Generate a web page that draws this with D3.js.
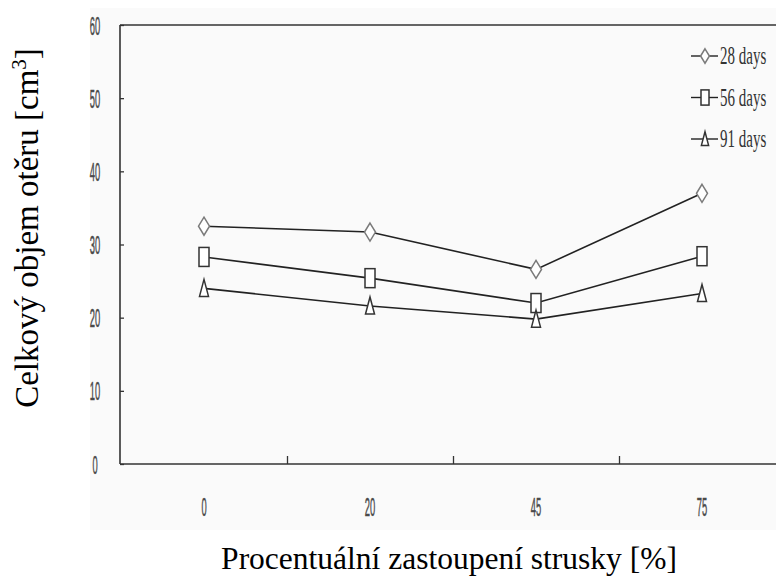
<!DOCTYPE html>
<html>
<head>
<meta charset="utf-8">
<script src="https://cdn.jsdelivr.net/npm/d3@7"></script>
<style>
  html, body { margin: 0; padding: 0; background: #ffffff; }
  svg { display: block; }
</style>
</head>
<body>
<script>
// Slag content categories (%) and abrasion volume per curing age (cm³)
const categories = ["0", "20", "45", "75"];
const seriesNames = ["28 days", "56 days", "91 days"];
const days28 = [32.5, 31.7, 26.6, 37.0];
const days56 = [28.3, 25.4, 22.0, 28.4];
const days91 = [24.0, 21.6, 19.8, 23.3];
const yTicks = [0, 10, 20, 30, 40, 50, 60];

const W = 776, H = 578;
const plotLeft = 120, plotTop = 25, plotBottom = 464, plotRight = 776;

const svg = d3.select("body").append("svg")
  .attr("width", W).attr("height", H);

// faint panel behind the plot
svg.append("rect")
  .attr("x", 90).attr("y", 8).attr("width", W - 90).attr("height", 522)
  .attr("fill", "#fafafa");

const x = d3.scaleBand().domain(categories).range([121, 785]).padding(0);
const y = d3.scaleLinear().domain([0, 60]).range([plotBottom, plotTop]);
const cx = c => x(c) + x.bandwidth() / 2;

const frame = "#333";

// y axis: ticks pointing inward, labels drawn separately
const gy = svg.append("g").attr("transform", `translate(${plotLeft},0)`)
  .call(d3.axisRight(y).tickValues(yTicks).tickSize(4).tickFormat(""));
gy.select(".domain").remove();
gy.selectAll(".tick line").attr("stroke", frame).attr("stroke-width", 1.3);

// x axis ticks sit on the band boundaries, pointing up into the plot
const bounds = categories.slice(1).map(c => x(c));
const gx = svg.append("g").attr("transform", `translate(0,${plotBottom})`)
  .call(d3.axisTop(d3.scaleIdentity()).tickValues(bounds).tickSize(8).tickFormat(""));
gx.select(".domain").remove();
gx.selectAll(".tick line").attr("stroke", frame).attr("stroke-width", 1.3);

// frame: left, top and bottom lines
svg.append("line").attr("x1", plotLeft).attr("x2", plotLeft).attr("y1", plotTop).attr("y2", plotBottom)
  .attr("stroke", frame).attr("stroke-width", 1.6);
svg.append("line").attr("x1", plotLeft).attr("x2", plotRight).attr("y1", plotTop).attr("y2", plotTop)
  .attr("stroke", frame).attr("stroke-width", 1.6);
svg.append("line").attr("x1", plotLeft).attr("x2", plotRight).attr("y1", plotBottom).attr("y2", plotBottom)
  .attr("stroke", frame).attr("stroke-width", 1.6);

// condensed tick labels
function narrowText(g, tx, ty, txt, size, sx, family, fill) {
  g.append("text")
    .attr("transform", `translate(${tx},${ty}) scale(${sx},1)`)
    .attr("text-anchor", "middle")
    .attr("font-family", family)
    .attr("font-size", size)
    .attr("fill", fill)
    .attr("stroke", fill)
    .attr("stroke-width", 0.5)
    .text(txt);
}
const labels = svg.append("g");
yTicks.forEach(v => narrowText(labels, 95, y(v) + 9.5, String(v), 26, 0.36, "Liberation Sans", "#4a4a4a"));
categories.forEach(c => narrowText(labels, cx(c), 516, c, 26, 0.36, "Liberation Sans", "#4a4a4a"));

// series
const data = [days28, days56, days91];
const line = d3.line().x((d, i) => cx(categories[i])).y(d => y(d));

function marker(g, kind, px, py, s) {
  const k = s || 1;
  if (kind === 0) {
    g.append("path")
      .attr("d", `M${px},${py - 9 * k}L${px + 5.5 * k},${py}L${px},${py + 9 * k}L${px - 5.5 * k},${py}Z`)
      .attr("fill", "#fff").attr("stroke", "#7a7a7a").attr("stroke-width", 1.5);
  } else if (kind === 1) {
    g.append("rect")
      .attr("x", px - 5 * k).attr("y", py - 9.5 * k).attr("width", 10 * k).attr("height", 19 * k)
      .attr("fill", "#fff").attr("stroke", "#333").attr("stroke-width", 1.5);
  } else {
    g.append("path")
      .attr("d", `M${px},${py - 9 * k}L${px + 4.5 * k},${py + 8 * k}L${px - 4.5 * k},${py + 8 * k}Z`)
      .attr("fill", "#fff").attr("stroke", "#333").attr("stroke-width", 1.5);
  }
}

const plot = svg.append("g");
data.forEach(vals => {
  plot.append("path").datum(vals).attr("d", line)
    .attr("fill", "none").attr("stroke", "#222").attr("stroke-width", 1.6);
});
data.forEach((vals, k) => {
  vals.forEach((v, i) => marker(plot, k, cx(categories[i]), y(v)));
});

// legend
const leg = svg.append("g");
const legY = [56, 97.5, 139];
seriesNames.forEach((name, k) => {
  const ly = legY[k];
  leg.append("line").attr("x1", 691).attr("x2", 718).attr("y1", ly).attr("y2", ly)
    .attr("stroke", "#222").attr("stroke-width", 1.4);
  marker(leg, k, 705, ly, 0.8);
  leg.append("text")
    .attr("transform", `translate(720,${ly + 8}) scale(0.6,1)`)
    .attr("font-family", "Liberation Serif")
    .attr("font-size", 25)
    .attr("fill", "#333")
    .text(name);
});

// axis titles
const yTitle = svg.append("text")
  .attr("transform", "translate(38,228) rotate(-90)")
  .attr("text-anchor", "middle")
  .attr("font-family", "Liberation Serif")
  .attr("font-size", 33)
  .attr("fill", "#000");
yTitle.append("tspan").text("Celkový objem otěru [cm");
yTitle.append("tspan").attr("font-size", 21).attr("dy", -12).text("3");
yTitle.append("tspan").attr("dy", 12).text("]");

svg.append("text")
  .attr("x", 449).attr("y", 569)
  .attr("text-anchor", "middle")
  .attr("font-family", "Liberation Serif")
  .attr("font-size", 31.5)
  .attr("fill", "#000")
  .text("Procentuální zastoupení strusky [%]");
</script>
</body>
</html>
